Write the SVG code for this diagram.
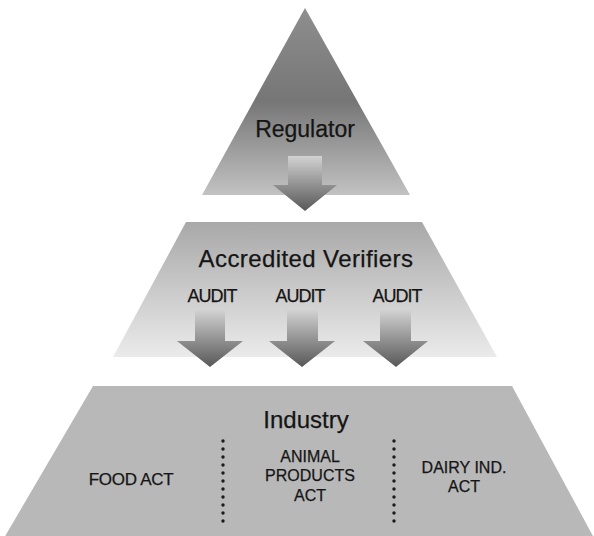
<svg xmlns="http://www.w3.org/2000/svg" width="594" height="536" viewBox="0 0 594 536">
<defs>
<linearGradient id="gTop" x1="0" y1="8" x2="0" y2="195" gradientUnits="userSpaceOnUse">
<stop offset="0" stop-color="#8e8e8e"/>
<stop offset="0.5" stop-color="#767676"/>
<stop offset="1" stop-color="#c2c2c2"/>
</linearGradient>
<linearGradient id="gMid" x1="0" y1="222" x2="0" y2="357" gradientUnits="userSpaceOnUse">
<stop offset="0" stop-color="#a8a8a8"/>
<stop offset="1" stop-color="#ebebeb"/>
</linearGradient>
<linearGradient id="gArrow" x1="0" y1="0" x2="0" y2="1">
<stop offset="0" stop-color="#d2d2d2"/>
<stop offset="0.55" stop-color="#8e8e8e"/>
<stop offset="1" stop-color="#585858"/>
</linearGradient>
</defs>
<style>
text{font-family:"Liberation Sans",Arial,sans-serif;fill:#151515;stroke:#151515;stroke-width:0.25;text-anchor:middle}
.big{font-size:24px}
.audit{font-size:18px;letter-spacing:-1px}
.act{font-size:16px}
.arrow{fill:url(#gArrow)}
.dots{stroke:#1a1a1a;stroke-width:3.4;stroke-linecap:round;stroke-dasharray:0 8;fill:none}
</style>
<rect width="594" height="536" fill="#ffffff"/>
<g id="regulator">
<polygon points="305,8 410,195 202,195" fill="url(#gTop)"/>
<text class="big" x="305" y="137" style="font-size:23px">Regulator</text>
</g>
<g id="verifiers">
<polygon points="186,222 422,222 497,357 113,357" fill="url(#gMid)"/>
<text class="big" x="306" y="267" letter-spacing="0.4">Accredited Verifiers</text>
<text class="audit" x="212" y="302">AUDIT</text>
<text class="audit" x="300" y="302">AUDIT</text>
<text class="audit" x="397" y="302">AUDIT</text>
</g>
<g id="industry">
<polygon points="93,386 512,386 594,538 4,538" fill="#b8b8b8"/>
<text class="big" x="306" y="428">Industry</text>
<text class="act" x="131" y="485" style="font-size:17px;letter-spacing:-0.3px">FOOD ACT</text>
<text class="act" x="310" y="462">ANIMAL</text>
<text class="act" x="310" y="481">PRODUCTS</text>
<text class="act" x="310" y="501">ACT</text>
<text class="act" x="464" y="473">DAIRY IND.</text>
<text class="act" x="464" y="492">ACT</text>
<line class="dots" x1="223" y1="441" x2="223" y2="522"/>
<line class="dots" x1="394" y1="441" x2="394" y2="522"/>
</g>
<g id="connectors">
<polygon class="arrow" points="288,156 322,156 322,185 337,185 305,211 273,185 288,185"/>
<polygon class="arrow" points="195,310 225,310 225,341 243,341 210,367 177,341 195,341"/>
<polygon class="arrow" points="287,310 318,310 318,341 335,341 302,367 269,341 287,341"/>
<polygon class="arrow" points="380,310 411,310 411,341 428,341 396,367 363,341 380,341"/>
</g>
</svg>
